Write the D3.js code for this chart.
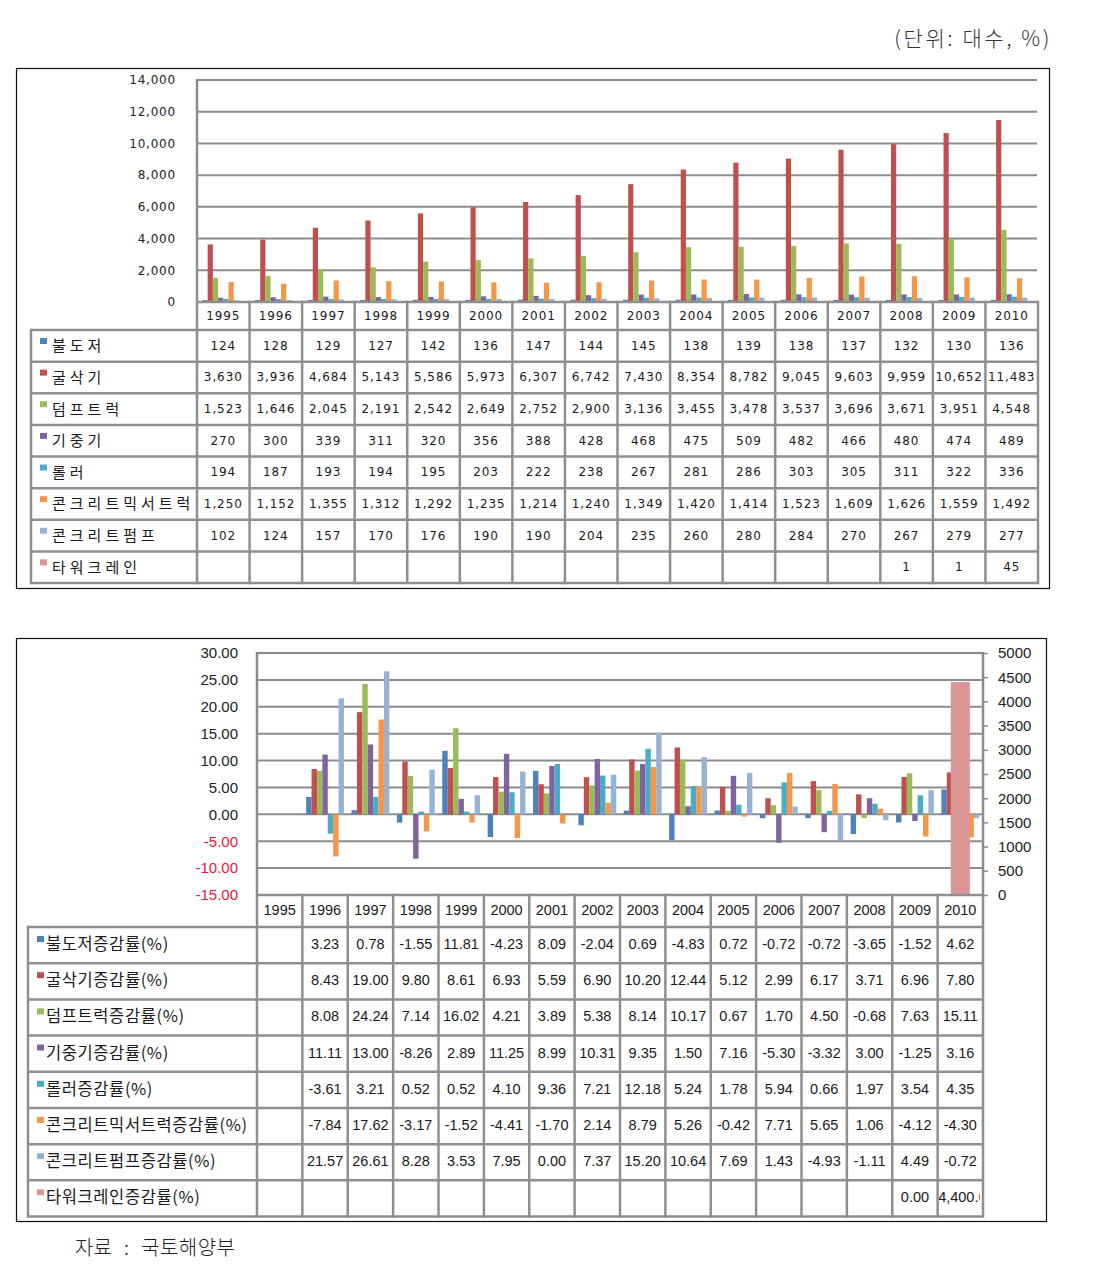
<!DOCTYPE html>
<html><head><meta charset="utf-8">
<script src="https://cdn.jsdelivr.net/npm/d3@7"></script>
<style>body{margin:0;background:#fff}svg{display:block}</style>
</head><body>
<svg id="c" width="1096" height="1277"></svg>
<script>
// ---------- DATA ----------
const years = [1995,1996,1997,1998,1999,2000,2001,2002,2003,2004,2005,2006,2007,2008,2009,2010];
const seriesNames = ["불도저","굴삭기","덤프트럭","기중기","롤러","콘크리트믹서트럭","콘크리트펌프","타워크레인"];
const growthNames = ["불도저증감률(%)","굴삭기증감률(%)","덤프트럭증감률(%)","기중기증감률(%)","롤러증감률(%)","콘크리트믹서트럭증감률(%)","콘크리트펌프증감률(%)","타워크레인증감률(%)"];
const colors = ["#4F81BD","#C0504D","#9BBB59","#8064A2","#4BACC6","#F79646","#95B3D7","#D99694"];

const bulldozer   = [124,128,129,127,142,136,147,144,145,138,139,138,137,132,130,136];
const excavator   = [3630,3936,4684,5143,5586,5973,6307,6742,7430,8354,8782,9045,9603,9959,10652,11483];
const dumpTruck   = [1523,1646,2045,2191,2542,2649,2752,2900,3136,3455,3478,3537,3696,3671,3951,4548];
const crane       = [270,300,339,311,320,356,388,428,468,475,509,482,466,480,474,489];
const roller      = [194,187,193,194,195,203,222,238,267,281,286,303,305,311,322,336];
const mixerTruck  = [1250,1152,1355,1312,1292,1235,1214,1240,1349,1420,1414,1523,1609,1626,1559,1492];
const concPump    = [102,124,157,170,176,190,190,204,235,260,280,284,270,267,279,277];
const towerCrane  = [null,null,null,null,null,null,null,null,null,null,null,null,null,1,1,45];

const gBulldozer  = [null,3.23,0.78,-1.55,11.81,-4.23,8.09,-2.04,0.69,-4.83,0.72,-0.72,-0.72,-3.65,-1.52,4.62];
const gExcavator  = [null,8.43,19.00,9.80,8.61,6.93,5.59,6.90,10.20,12.44,5.12,2.99,6.17,3.71,6.96,7.80];
const gDumpTruck  = [null,8.08,24.24,7.14,16.02,4.21,3.89,5.38,8.14,10.17,0.67,1.70,4.50,-0.68,7.63,15.11];
const gCrane      = [null,11.11,13.00,-8.26,2.89,11.25,8.99,10.31,9.35,1.50,7.16,-5.30,-3.32,3.00,-1.25,3.16];
const gRoller     = [null,-3.61,3.21,0.52,0.52,4.10,9.36,7.21,12.18,5.24,1.78,5.94,0.66,1.97,3.54,4.35];
const gMixer      = [null,-7.84,17.62,-3.17,-1.52,-4.41,-1.70,2.14,8.79,5.26,-0.42,7.71,5.65,1.06,-4.12,-4.30];
const gPump       = [null,21.57,26.61,8.28,3.53,7.95,0.00,7.37,15.20,10.64,7.69,1.43,-4.93,-1.11,4.49,-0.72];
const gTower      = [null,null,null,null,null,null,null,null,null,null,null,null,null,null,0.00,4400];

const topTicks = [0,2000,4000,6000,8000,10000,12000,14000];
const leftTicks = [-15,-10,-5,0,5,10,15,20,25,30];
const rightTicks = [0,500,1000,1500,2000,2500,3000,3500,4000,4500,5000];

const topSeries = [bulldozer,excavator,dumpTruck,crane,roller,mixerTruck,concPump,towerCrane];
const growthSeries = [gBulldozer,gExcavator,gDumpTruck,gCrane,gRoller,gMixer,gPump,gTower];

// ---------- DRAW ----------
const svg = d3.select("#c");
const GRID = "#8c8c8c", LINE = "#8f8f8f";
const KR = "'Noto Sans CJK KR', 'Noto Sans', sans-serif";
const hy = f => v => f(v).replace(/\u2212/g,"-");

// title
svg.append("text").attr("x",1052).attr("y",37).attr("text-anchor","end").attr("dominant-baseline","central")
  .attr("font-family",KR).attr("font-size",21).attr("letter-spacing",2.6).attr("fill","#333").attr("font-weight",300).text("(단위: 대수, %)");

// source
svg.append("text").attr("x",75).attr("y",1246).attr("dominant-baseline","central")
  .attr("font-family",KR).attr("font-size",20).attr("fill","#222").attr("font-weight",300)
  .call(t=>{t.append("tspan").text("자료");t.append("tspan").attr("x",124).text(":");t.append("tspan").attr("x",141).attr("letter-spacing",0.5).text("국토해양부");});

function drawTable(g, o){
  const bw = o.x.bandwidth();
  const nR = o.rows.length;
  const yRow = i => o.y1 + i*o.rowH;
  const yEnd = yRow(nR);
  const hl = [];
  hl.push({x1:o.xSplit,x2:o.xEnd,y:o.y0});
  for(let i=0;i<=nR;i++) hl.push({x1:o.xLeft,x2:o.xEnd,y:yRow(i)});
  g.append("g").selectAll("line").data(hl).join("line")
    .attr("x1",d=>d.x1).attr("x2",d=>d.x2).attr("y1",d=>d.y).attr("y2",d=>d.y)
    .attr("stroke",LINE).attr("stroke-width",o.lw);
  const vl = [{x:o.xLeft,y1:o.y1,y2:yEnd}];
  years.forEach(yr=>vl.push({x:o.x(yr),y1:o.y0,y2:yEnd}));
  vl.push({x:o.xEnd,y1:o.y0,y2:yEnd});
  g.append("g").selectAll("line").data(vl).join("line")
    .attr("x1",d=>d.x).attr("x2",d=>d.x).attr("y1",d=>d.y1-o.lw/2).attr("y2",d=>d.y2+o.lw/2)
    .attr("stroke",LINE).attr("stroke-width",o.lw);
  g.append("g").selectAll("text").data(years).join("text")
    .attr("x",d=>o.x(d)+bw/2).attr("y",(o.y0+o.y1)/2+o.dy).attr("text-anchor","middle").attr("dominant-baseline","central")
    .attr("font-family",o.numFont).attr("font-size",o.numSize).attr("letter-spacing",o.numLS).attr("fill","#1a1a1a").text(d=>d);
  o.rows.forEach((r,i)=>{
    const cy = yRow(i)+o.rowH/2;
    g.append("rect").attr("x",o.sqX).attr("y",yRow(i)+o.sqDY).attr("width",o.sq).attr("height",o.sq-1).attr("fill",colors[i]);
    g.append("text").attr("x",o.labX).attr("y",cy+o.ldy).attr("dominant-baseline","central")
      .attr("font-family",KR).attr("font-size",o.labSize).attr("letter-spacing",o.labLS).attr("fill","#1a1a1a").text(r.name);
    const cells = years.map((yr,j)=>({yr,v:r.values[j]})).filter(d=>d.v!=null);
    g.append("g").selectAll("text").data(cells).join("text")
      .attr("x",d=>o.x(d.yr)+bw/2).attr("y",cy+o.dy).attr("text-anchor","middle").attr("dominant-baseline","central")
      .attr("font-family",o.numFont).attr("font-size",o.numSize).attr("letter-spacing",o.numLS).attr("fill","#1a1a1a")
      .attr("clip-path",d=>`url(#${o.id}-clip-${d.yr})`)
      .text(d=>o.fmt(d.v))
      .each(function(d){
        if(this.getComputedTextLength()>bw-3){
          d3.select(this).attr("text-anchor","start").attr("x",o.x(d.yr)+0.5);
        }
      });
  });
  const defs = g.append("defs");
  years.forEach(yr=>{
    defs.append("clipPath").attr("id",`${o.id}-clip-${yr}`).append("rect")
      .attr("x",o.x(yr)+o.lw/2).attr("y",o.y0).attr("width",bw-o.lw-2).attr("height",yEnd-o.y0);
  });
}

// ===== TOP CHART =====
const T = svg.append("g");
T.append("rect").attr("x",16.5).attr("y",68.5).attr("width",1033).attr("height",520)
  .attr("fill","none").attr("stroke","#111").attr("stroke-width",1.2);
const xT = d3.scaleBand().domain(years).range([197,1038]);
const yT = d3.scaleLinear().domain([0,14000]).range([302,80]);
T.append("g").selectAll("line").data(topTicks.filter(d=>d>0)).join("line")
  .attr("x1",197).attr("x2",1037).attr("y1",d=>yT(d)).attr("y2",d=>yT(d))
  .attr("stroke",GRID).attr("stroke-width",2);
T.append("line").attr("x1",197).attr("x2",197).attr("y1",yT(14000)-1).attr("y2",yT(0)).attr("stroke",GRID).attr("stroke-width",2.5);
const axT = T.append("g").attr("transform","translate(197,0)")
  .call(d3.axisLeft(yT).tickValues(topTicks).tickFormat(d3.format(",")).tickSize(0).tickPadding(21));
axT.select(".domain").remove();
axT.selectAll("text").attr("font-family","DejaVu Sans").attr("font-size",12).attr("letter-spacing",0.8).attr("fill","#222");
const xsT = d3.scaleBand().domain(d3.range(8)).range([0,xT.bandwidth()]).paddingOuter(1.05).paddingInner(0);
topSeries.forEach((vals,i)=>{
  T.append("g").selectAll("rect").data(years.map((yr,j)=>({yr,v:vals[j]})).filter(d=>d.v!=null)).join("rect")
    .attr("x",d=>xT(d.yr)+xsT(i)).attr("width",xsT.bandwidth())
    .attr("y",d=>yT(d.v)).attr("height",d=>yT(0)-yT(d.v)).attr("fill",colors[i]);
});
drawTable(T,{id:"tt",x:xT,xLeft:31,xSplit:197,xEnd:1038,y0:302,y1:330,rowH:(583-330)/8,lw:2.5,
  rows:seriesNames.map((n,i)=>({name:n,values:topSeries[i]})),fmt:d3.format(","),
  numFont:"DejaVu Sans",numSize:12,numLS:0.9,dy:0,labSize:15,labLS:4,labX:52,ldy:-1,sqX:40,sqDY:8,sq:7});

// ===== BOTTOM CHART =====
const B = svg.append("g");
B.append("rect").attr("x",16.5).attr("y",638.5).attr("width",1030).attr("height",583)
  .attr("fill","none").attr("stroke","#111").attr("stroke-width",1.2);
const xB = d3.scaleBand().domain(years).range([257,983]);
const yL = d3.scaleLinear().domain([-15,30]).range([895,653]);
const yR = d3.scaleLinear().domain([0,5000]).range([895,653]);
B.append("g").selectAll("line").data(leftTicks.filter(d=>d>-15)).join("line")
  .attr("x1",257).attr("x2",983).attr("y1",d=>yL(d)).attr("y2",d=>yL(d))
  .attr("stroke",GRID).attr("stroke-width",2);
B.append("line").attr("x1",257).attr("x2",257).attr("y1",yL(30)-1).attr("y2",yL(-15)).attr("stroke",GRID).attr("stroke-width",2.5);
B.append("line").attr("x1",983).attr("x2",983).attr("y1",yL(30)-1).attr("y2",yL(-15)).attr("stroke",GRID).attr("stroke-width",2.5);
const axL = B.append("g").attr("transform","translate(257,0)")
  .call(d3.axisLeft(yL).tickValues(leftTicks).tickFormat(hy(d3.format(".2f"))).tickSize(0).tickPadding(19));
axL.select(".domain").remove();
axL.selectAll("text").attr("font-family","'Liberation Sans', Arial, sans-serif").attr("font-size",15)
  .attr("fill",d=>d<0?"#E8173A":"#222");
const axR = B.append("g").attr("transform","translate(983,0)")
  .call(d3.axisRight(yR).tickValues(rightTicks).tickFormat(d3.format("d")).tickSize(5).tickPadding(10));
axR.select(".domain").remove();
axR.selectAll("line").attr("stroke",GRID).attr("stroke-width",1.5);
axR.selectAll("text").attr("font-family","'Liberation Sans', Arial, sans-serif").attr("font-size",15).attr("fill","#222");
const xsB = d3.scaleBand().domain(d3.range(7)).range([0,xB.bandwidth()]).paddingOuter(0.7).paddingInner(0);
const xsSec = d3.scaleBand().domain([7]).range([0,xB.bandwidth()]).paddingOuter(0.69).paddingInner(0);
growthSeries.forEach((vals,i)=>{
  const sec = i===7;
  const ys = sec? yR : yL;
  const xs = sec? xsSec : xsB;
  B.append("g").selectAll("rect").data(years.map((yr,j)=>({yr,v:vals[j]})).filter(d=>d.v!=null)).join("rect")
    .attr("x",d=>xB(d.yr)+xs(i)).attr("width",xs.bandwidth())
    .attr("y",d=>Math.min(ys(d.v),ys(0))).attr("height",d=>Math.abs(ys(0)-ys(d.v))).attr("fill",colors[i]);
});
drawTable(B,{id:"bt",x:xB,xLeft:28,xSplit:257,xEnd:983,y0:895,y1:927,rowH:(1216.5-927)/8,lw:2.5,
  rows:growthNames.map((n,i)=>({name:n,values:growthSeries[i]})),fmt:hy(d3.format(",.2f")),
  numFont:"'Liberation Sans', Arial, sans-serif",numSize:14.5,numLS:0,dy:-1,labSize:16.5,labLS:0.6,labX:46,ldy:-2,sqX:37,sqDY:9,sq:7});
</script>
</body></html>
